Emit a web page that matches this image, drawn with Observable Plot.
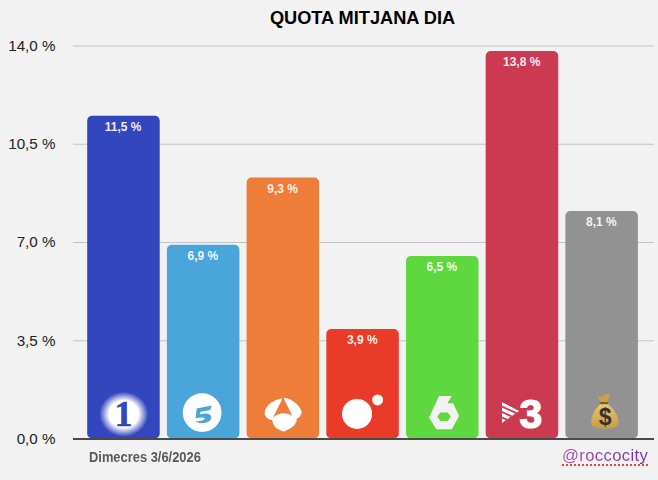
<!DOCTYPE html>
<html><head><meta charset="utf-8">
<script src="https://cdn.jsdelivr.net/npm/d3@7"></script>
<script src="https://cdn.jsdelivr.net/npm/@observablehq/plot@0.6"></script>
<style>
html,body{margin:0;padding:0;background:#f2f2f2;width:658px;height:480px;overflow:hidden}
#title{height:30px;padding-left:67px;text-align:center;font:bold 18.2px/36px "Liberation Sans",Arial,sans-serif;color:#000}
#chart svg{display:block;background:transparent}
#foot{position:relative;height:25px}
#date{position:absolute;left:89px;top:-9px;font:bold 15px/22px "Liberation Sans",sans-serif;color:#595959;transform:scaleX(.86);transform-origin:0 50%;white-space:nowrap}
#handle{position:absolute;left:562px;top:-10px;font:16.6px/22px "Liberation Sans",sans-serif;letter-spacing:.4px;
 background:linear-gradient(90deg,#b04fa8,#6a35a8);-webkit-background-clip:text;background-clip:text;color:transparent;
 text-decoration:underline dotted #e8413a 2px;text-underline-offset:3px}
</style></head><body>
<div id="title">QUOTA MITJANA DIA</div>
<div id="chart"></div>
<div id="foot"><div id="date">Dimecres 3/6/2026</div><div id="handle">@roccocity</div></div>
<script>
const channels = ["La 1","Telecinco","Antena 3","Cuatro","La Sexta","3/24","Altres"];
const shares = [11.5,6.9,9.3,3.9,6.5,13.8,8.1];
const colors = ["#3346bd","#4aa5db","#ef7d3a","#ea3b29","#5fd83f","#cc3a52","#929292"];
const yTicks = [0,3.5,7,10.5,14];
const iconLevel = [0.93,0.93,0.93,0.93,0.93,0.93,0.93];

const svgUri = s => "data:image/svg+xml;utf8," + encodeURIComponent(`<svg xmlns="http://www.w3.org/2000/svg" viewBox="0 0 60 60" width="60" height="60">${s}</svg>`);
const icons = [
 `<defs><radialGradient id="g"><stop offset="0.6" stop-color="#fff"/><stop offset="1" stop-color="#fff" stop-opacity="0"/></radialGradient></defs><ellipse cx="29.8" cy="31.3" rx="24.5" ry="22.5" fill="url(#g)"/><text x="29.5" y="43" font-family="Liberation Serif" font-weight="bold" font-size="36" text-anchor="middle" fill="#3346bd" stroke="#3346bd" stroke-width=".5">1</text>`,
 `<circle cx="28.5" cy="29.7" r="19.4" fill="#fff"/><path d="M23 25.5L38 22.5L36.5 27L27 28.8L26 31.5C33 29.5 38.5 31 37.5 35.5C36.5 40 28 41.5 21 38.5C26 38.5 31 37.5 31 35.5C31 34 26 34.5 22 35.5Z" fill="#4aa5db"/>`,
 `<g fill="#fff" stroke="#fff" stroke-width="1.5" stroke-linejoin="round"><path d="M12 31Q12 25 18 20.5Q23 17 28 16.3L18 36.3Q13 35 12 31Z"/><path d="M31.3 15.7Q37 16.5 42 21Q47.5 26 47.5 30Q46.5 34.5 41.3 36Z"/><path d="M19.3 36.3Q24 31 30.5 31Q37 31 42.7 37Q42 41 38 44Q33 47 30.3 48Q27 47 22.5 44Q20 41 19.3 36.3Z"/></g>`,
 `<circle cx="24" cy="31" r="15" fill="#fff"/><circle cx="44.5" cy="17" r="5.5" fill="#fff"/>`,
 `<path d="M26.3 13L39 13L34.7 20.3L40.3 20.3L46.3 33L39 46.3L23.7 46.3L16.3 34.7Z" fill="#f2f2f2"/><path d="M27.5 29.5L35 29.5L38 33.7L35 38L27.5 38L24.5 33.7Z" fill="#5fd83f"/>`,
 `<defs><clipPath id="t"><path d="M9.3 19L27 28L9.3 40.3Z"/></clipPath></defs><g clip-path="url(#t)"><path d="M9.3 19L27 28L9.3 40.3Z" fill="#fff"/><g stroke="#cc3a52" stroke-width="1.8"><path d="M5 21.5L30 33"/><path d="M5 27L30 38.5"/><path d="M5 32.5L30 44"/></g></g><text x="38.5" y="45.5" font-family="Liberation Sans" font-weight="bold" font-size="41" text-anchor="middle" fill="#fff" stroke="#fff" stroke-width="1.2">3</text>`,
 `<defs><linearGradient id="b" x1="0" y1="0" x2="0" y2="1"><stop offset="0" stop-color="#e9c66e"/><stop offset="1" stop-color="#c99c3f"/></linearGradient></defs><path d="M24.7 12.3L29 14.5L33 11L38 11.5L34.7 20L29 20Z" fill="#c9a24e"/><rect x="28" y="19" width="8" height="2.5" rx="1" fill="#7a5c22"/><path d="M28 21.3C22 27 19 33 19 39C19 44 23 45.5 32.5 45.5C42 45.5 46.3 44 46.3 39C46.3 33 42 27 36.3 21.3Z" fill="url(#b)"/><text x="33" y="42.5" font-family="Liberation Sans" font-weight="bold" font-size="23" text-anchor="middle" fill="#333">$</text>`
];
const iconSizes = [60,60,60,60,60,60,60];

const rows = channels.map((c,i)=>({c,v:shares[i],color:colors[i],icon:svgUri(icons[i]),lvl:iconLevel[i],size:iconSizes[i]}));
const fmt = v => d3.format(".1f")(v).replace(".",",") + " %";

const plot = Plot.plot({
  width:658, height:425,
  marginLeft:73, marginRight:4, marginTop:15.5, marginBottom:16.5,
  style:{background:"transparent",fontFamily:'"Liberation Sans",Arial,sans-serif'},
  x:{type:"band",domain:channels,range:[83.6,641.5],round:false,paddingInner:.09,paddingOuter:.045,axis:null},
  y:{domain:[0,14],ticks:yTicks,axis:null},
  marks:[
    Plot.ruleY(yTicks.filter(d=>d>0),{stroke:"#c4c4c4",strokeWidth:1.2,strokeOpacity:1}),
    Plot.text(yTicks,{y:d=>d,text:fmt,frameAnchor:"left",textAnchor:"end",dx:-18,fontSize:15.2,fill:"#222"}),
    Plot.barY(rows,{x:"c",y:"v",fill:"color",rx:5}),
    Plot.image(rows,{x:"c",y:"lvl",src:"icon",width:"size",height:"size"}),
    Plot.text(rows,{x:"c",y:"v",text:d=>fmt(d.v),dy:11,dx:-.8,fill:"#fff",fontSize:12,fontWeight:"bold",fillOpacity:.92}),
    Plot.ruleY([0],{stroke:"#4a4a4a",strokeWidth:2})
  ]
});
document.getElementById("chart").append(plot);
</script>
</body></html>
